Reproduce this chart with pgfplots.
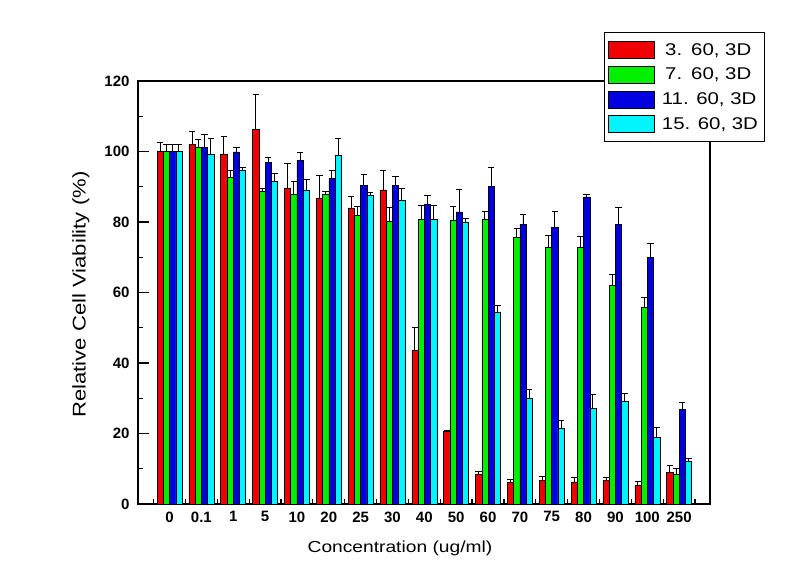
\documentclass[border=0pt]{standalone}
\usepackage{fontspec}
\setmainfont{Liberation Sans}
\newfontfamily\labelfont{Liberation Sans}[FakeStretch=1.2]
\usepackage{pgfplots}
\usepackage{pgfplotstable}
\pgfplotsset{compat=1.18}
\definecolor{cRed}{RGB}{240,0,0}
\definecolor{cGreen}{RGB}{0,240,0}
\definecolor{cBlue}{RGB}{0,0,225}
\definecolor{cCyan}{RGB}{0,245,255}
\pgfplotstableread{
x  r     re   g     ge   b     be   c     ce
0  100.0 2.6  100.0 2.0  100.0 2.0  100.0 2.0
1  102.1 3.7  101.3 2.1  101.1 3.6  99.1  4.5
2  99.1  5.1  92.8  1.7  99.9  1.2  94.7  0.7
3  106.3 9.9  88.7  0.9  96.9  1.3  91.6  2.3
4  89.7  6.8  87.9  3.5  97.4  2.2  89.1  2.9
5  86.6  6.5  87.9  0.9  92.3  2.2  99.0  4.6
6  84.0  3.2  81.8  2.5  90.3  3.1  87.7  0.6
7  89.1  5.5  80.2  3.8  90.3  2.5  86.3  3.3
8  43.6  6.4  80.8  4.0  85.1  2.3  80.9  3.9
9  20.5  0.5  80.6  3.7  82.9  6.2  79.8  1.3
10 8.3   1.0  80.8  2.3  90.0  5.4  54.3  2.1
11 6.1   0.8  75.7  2.6  79.4  2.8  29.9  2.6
12 6.8   1.0  72.8  3.5  78.5  4.4  21.5  2.1
13 6.3   1.3  72.8  3.2  87.1  0.8  27.2  3.8
14 6.6   0.8  62.1  3.1  79.4  4.8  29.1  2.4
15 5.4   1.1  55.7  2.9  69.9  4.0  18.8  2.8
16 8.9   1.9  8.5   1.5  26.8  1.9  12.2  0.8
}\datatable
\begin{document}
\begin{tikzpicture}
\path[use as bounding box] (0pt,0pt) rectangle (810pt,565pt);
\begin{axis}[
  at={(138pt,61pt)}, anchor=south west,
  scale only axis, width=572pt, height=423pt,
  xmin=-0.99, xmax=16.97, ymin=0, ymax=120,
  ybar=0pt, bar width=6.25pt,
  xtick={0,...,16},
  xticklabels={0,0.1,1,5,10,20,25,30,40,50,60,70,75,80,90,100,250},
  minor xtick={-0.5,0.5,...,16.5},
  ytick={0,20,...,120},
  minor ytick={10,30,...,110},
  xtick pos=bottom, ytick pos=left,
  tick align=inside,
  major tick length=11pt, minor tick length=5pt,
  major x tick style={draw=none},
  every tick/.style={black, line width=1.2pt},
  axis line style={line width=1.6pt},
  /pgf/number format/assume math mode=true,
  tick label style={font=\fontsize{15}{18}\selectfont\bfseries},
  yticklabel style={xshift=-5pt},
  xticklabel style={yshift=-4pt},
  xlabel={Concentration (ug/ml)},
  ylabel={Relative Cell Viability (\%)},
  xlabel style={font=\labelfont\fontsize{16}{19}\selectfont, at={(axis description cs:0.458,-0.104)}, anchor=center},
  ylabel style={font=\labelfont\fontsize{18.4}{22}\selectfont, at={(axis description cs:-0.1,0.495)}, anchor=center},
  error bars/y dir=plus, error bars/y explicit,
  error bars/error bar style={black, line width=0.9pt},
  error bars/error mark options={rotate=90, mark size=3.2pt, line width=0.9pt, black},
  every axis plot/.append style={draw=black, line width=0.5pt},
  legend style={at={(axis description cs:0.8147,1.1158)}, anchor=north west,
    draw=black, line width=0.6pt, fill=white,
    inner xsep=4pt, inner ysep=9pt, row sep=7pt,
    font=\labelfont\fontsize{17}{20}\selectfont},
  legend cell align=left,
  legend image code/.code={\draw[#1, line width=0.6pt] (0pt,-8.5pt) rectangle (46pt,8.5pt);},
]
\addplot[fill=cRed] table[x=x, y=r, y error=re] {\datatable};
\addplot[fill=cGreen] table[x=x, y=g, y error=ge] {\datatable};
\addplot[fill=cBlue] table[x=x, y=b, y error=be] {\datatable};
\addplot[fill=cCyan] table[x=x, y=c, y error=ce] {\datatable};
\legend{{\hspace{5pt}\makebox[1.39em][c]{3.} 60, 3D\hspace{6pt}}, {\hspace{5pt}\makebox[1.39em][c]{7.} 60, 3D\hspace{6pt}}, {\hspace{5pt}11. 60, 3D\hspace{6pt}}, {\hspace{5pt}15. 60, 3D\hspace{6pt}}}
\end{axis}
\end{tikzpicture}
\end{document}
